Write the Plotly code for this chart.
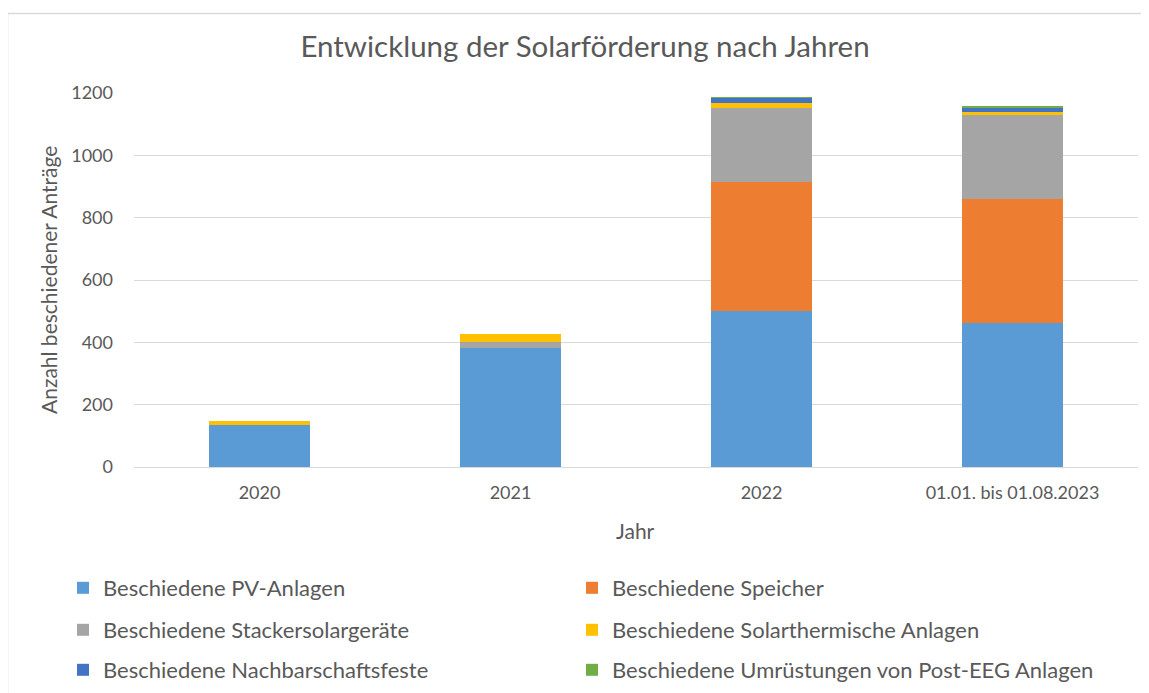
import plotly.graph_objects as go

categories = ["2020", "2021", "2022", "01.01. bis 01.08.2023"]
pv_anlagen = [134, 382, 500, 462]
speicher = [0, 0, 415, 398]
stackersolar = [0, 20, 237, 268]
solarthermie = [13, 25, 16, 11]
nachbarschaft = [0, 0, 16, 14]
umruestungen = [0, 0, 3, 3]

series = [
    ("Beschiedene PV-Anlagen", pv_anlagen, "#5B9BD5"),
    ("Beschiedene Speicher", speicher, "#ED7D31"),
    ("Beschiedene Stackersolargeräte", stackersolar, "#A5A5A5"),
    ("Beschiedene Solarthermische Anlagen", solarthermie, "#FFC000"),
    ("Beschiedene Nachbarschaftsfeste", nachbarschaft, "#4472C4"),
    ("Beschiedene Umrüstungen von Post-EEG Anlagen", umruestungen, "#70AD47"),
]

FONT = "Lato"
TXT = "#595959"
OFF = 8  # page body margin

W, H = 1149 - OFF, 693 - OFF
L, T = 134 - OFF, 93 - OFF
R = W - (1138 - OFF)
B = H - (467 - OFF)
pw = W - L - R
ph = H - T - B


def px_x(px):
    return (px - OFF - L) / pw


def px_y(py):
    return (H - B - (py - OFF)) / ph


def leg(px, py):
    return dict(orientation="h", x=px_x(px), xanchor="left", y=px_y(py), yanchor="middle",
                font=dict(size=22, color=TXT, family=FONT),
                itemwidth=30, bgcolor="rgba(0,0,0,0)")


col_x = [63, 572]
row_y = [588, 630, 670]

fig = go.Figure()
legends = {}
for i, (name, vals, col) in enumerate(series):
    key = "legend" if i == 0 else f"legend{i + 1}"
    legends[key] = leg(col_x[i % 2], row_y[i // 2])
    fig.add_trace(go.Bar(name=name, x=categories, y=vals, legend=key,
                         marker=dict(color=col, line=dict(width=0))))

fig.update_layout(
    width=W, height=H,
    barmode="stack", bargap=0.6,
    margin=dict(l=L, r=R, t=T, b=B, autoexpand=False),
    paper_bgcolor="white", plot_bgcolor="white",
    font=dict(family=FONT, color=TXT, size=18),
    title=dict(text="Entwicklung der Solarförderung nach Jahren", x=(585 - OFF) / W, xanchor="center",
               y=1 - (47 - OFF) / H, yanchor="middle", font=dict(size=29.5, color=TXT, family=FONT)),
    xaxis=dict(tickfont=dict(size=18, color=TXT), showline=True, linecolor="#D9D9D9",
               linewidth=1, ticks="", ticklabelstandoff=9),
    yaxis=dict(range=[0, 1200], dtick=200, tickfont=dict(size=18, color=TXT),
               showgrid=True, gridcolor="#D9D9D9", gridwidth=1, zeroline=False, ticks="",
               ticklabelstandoff=20),
    showlegend=True,
    **legends,
)

fig.add_annotation(text="Anzahl beschiedener Anträge", textangle=-90, xref="paper", yref="paper",
                   x=px_x(48), y=px_y(280), xanchor="center", yanchor="middle", showarrow=False,
                   font=dict(size=21, color=TXT, family=FONT))
fig.add_annotation(text="Jahr", xref="paper", yref="paper",
                   x=px_x(635), y=px_y(530), xanchor="center", yanchor="middle", showarrow=False,
                   font=dict(size=21, color=TXT, family=FONT))

fig.add_shape(type="rect", xref="paper", yref="paper",
              x0=px_x(7.5), x1=px_x(1160), y0=px_y(710), y1=px_y(13.5),
              line=dict(color="#D9D9D9", width=1.5), fillcolor="rgba(0,0,0,0)", layer="below")

fig.write_html("out.html")
